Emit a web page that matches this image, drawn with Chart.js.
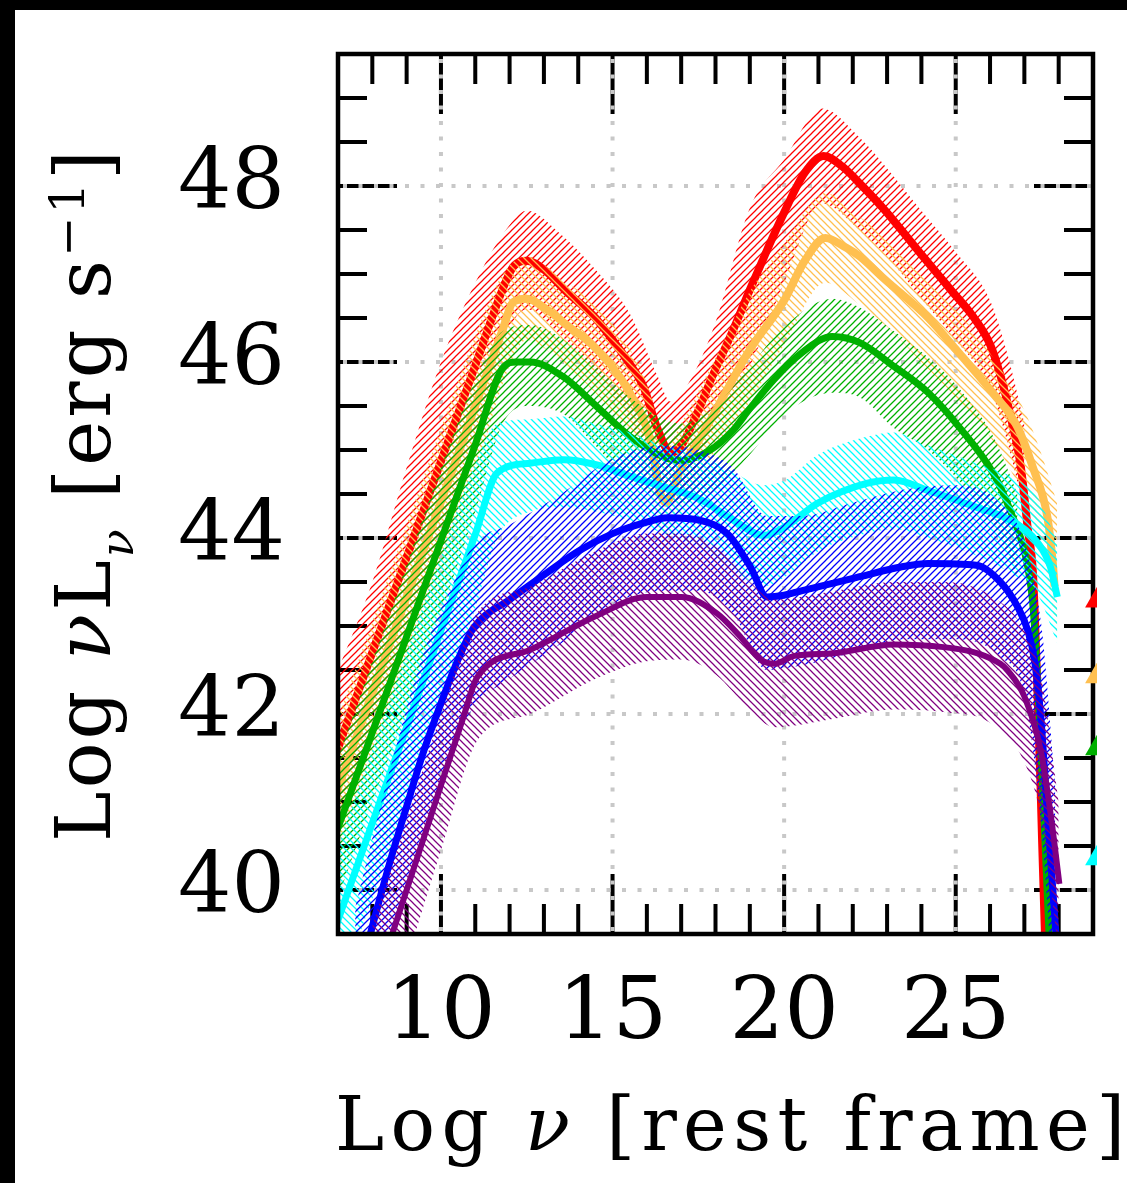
<!DOCTYPE html>
<html>
<head>
<meta charset="utf-8">
<script src="https://cdn.jsdelivr.net/npm/chart.js@4.4.0/dist/chart.umd.min.js"></script>
<style>
  html, body { margin: 0; padding: 0; background: #fff; }
  canvas { display: block; }
</style>
</head>
<body>
<canvas id="sed" width="1138" height="1183"></canvas>
<script>
// axis ticks
const xTicks = [10, 15, 20, 25];
const yTicks = [40, 42, 44, 46, 48];

// mean SEDs : log nu (rest frame) vs log nuLnu
const nuRed  = [6.9, 8, 9, 10, 11, 11.8, 12.1, 12.5, 13, 13.6, 14.5, 15, 15.5, 15.9, 16.3, 16.7, 17.0, 17.5, 17.9, 18.5, 19, 19.5, 20, 20.6, 21.15, 21.7, 22.2, 22.9, 24, 24.9, 25.5, 26, 26.3, 26.6, 26.9, 27.1, 27.25, 27.37, 27.47, 27.6, 27.7];
const lumRed = [41.5, 42.7, 43.78, 44.87, 45.96, 46.83, 47.08, 47.15, 47.05, 46.82, 46.5, 46.25, 45.98, 45.72, 45.25, 44.97, 45.05, 45.45, 45.83, 46.35, 46.82, 47.27, 47.7, 48.15, 48.34, 48.22, 48.03, 47.74, 47.22, 46.8, 46.52, 46.2, 45.85, 45.38, 44.8, 44.1, 43.6, 42.4, 41.2, 39.5, 38.8];

const nuOrg  = [6.9, 8, 9, 10, 11, 11.8, 12.1, 12.5, 13, 13.6, 14.5, 15.5, 16.1, 16.4, 16.55, 17.0, 17.5, 17.85, 18.5, 19, 20, 20.6, 21.2, 21.8, 22.2, 22.9, 24.2, 25.1, 26.1, 26.8, 27.25, 27.67, 27.82, 27.88];
const lumOrg = [41.05, 42.24, 43.33, 44.41, 45.5, 46.37, 46.68, 46.72, 46.62, 46.44, 46.16, 45.65, 45.11, 44.5, 44.4, 44.8, 45.1, 45.34, 45.8, 46.14, 46.7, 47.15, 47.41, 47.3, 47.2, 46.95, 46.5, 46.1, 45.64, 45.26, 44.8, 44.24, 43.75, 43.45];

const nuGrn  = [6.9, 8, 9, 10, 11, 11.8, 12.2, 12.6, 13.57, 14.55, 15.52, 16.49, 17.0, 17.85, 18.5, 19.0, 19.7, 20.5, 21.4, 22.2, 23.2, 24.2, 25.1, 26.1, 26.6, 27.08, 27.27, 27.53, 27.72, 27.8];
const lumGrn = [40.6, 41.79, 42.88, 43.97, 45.06, 45.93, 46.0, 46.0, 45.83, 45.49, 45.15, 44.92, 44.88, 45.0, 45.22, 45.47, 45.8, 46.1, 46.29, 46.22, 45.95, 45.65, 45.26, 44.73, 44.3, 43.71, 43.14, 41.2, 39.5, 39.0];

const nuCyn  = [6.9, 8, 9, 10, 11, 11.64, 12.6, 13.57, 14.55, 15.52, 16.5, 17.5, 18.53, 19.4, 20.0, 21.0, 22.4, 23.2, 24.2, 25.6, 26.6, 27.4, 27.76, 27.96];
const lumCyn = [39.55, 40.76, 41.85, 42.95, 44.04, 44.74, 44.85, 44.89, 44.83, 44.7, 44.58, 44.45, 44.2, 44.03, 44.12, 44.4, 44.62, 44.66, 44.54, 44.35, 44.2, 43.94, 43.67, 43.33];

const nuBlu  = [7.7, 7.94, 8.5, 9.0, 9.5, 10.0, 10.5, 10.95, 12.0, 13.0, 14.0, 15.0, 16.0, 16.6, 17.56, 18.34, 19.02, 19.5, 20.0, 20.5, 22.2, 23.4, 24.2, 25.6, 26.3, 26.8, 27.1, 27.3, 27.48, 27.68, 27.92, 28.0];
const lumBlu = [39.15, 39.5, 40.3, 40.95, 41.58, 42.12, 42.62, 42.98, 43.3, 43.58, 43.85, 44.05, 44.18, 44.23, 44.2, 44.05, 43.67, 43.33, 43.35, 43.4, 43.56, 43.67, 43.71, 43.69, 43.5, 43.22, 42.95, 42.6, 41.96, 40.82, 39.5, 39.0];

const nuPur  = [8.3, 8.58, 9.69, 10.65, 11.06, 12.6, 14.55, 16.0, 17.0, 18.05, 18.72, 19.31, 19.7, 20.3, 21.45, 23.2, 24.65, 25.64, 26.3, 26.5, 27.0, 27.48, 27.78, 28.02];
const lumPur = [39.17, 39.5, 40.82, 41.96, 42.42, 42.73, 43.12, 43.33, 43.33, 43.14, 42.88, 42.62, 42.57, 42.66, 42.69, 42.79, 42.76, 42.69, 42.57, 42.5, 42.2, 41.58, 40.82, 40.07];

// dispersion bands (upper / lower envelope)
const bnuRed = [6.9, 8, 9, 10, 11, 11.8, 12.5, 13.5, 14.5, 15.5, 16.3, 16.7, 17.2, 18, 19, 20, 21.1, 22.2, 23, 24, 25, 26, 26.5, 27.0];
const hiRed  = [42.4, 43.5, 44.8, 46.0, 46.9, 47.45, 47.72, 47.45, 47.05, 46.55, 45.85, 45.55, 45.75, 46.45, 47.75, 48.3, 48.88, 48.55, 48.2, 47.72, 47.25, 46.7, 46.1, 45.3];
const loRed  = [40.6, 41.8, 42.8, 43.8, 45.0, 46.2, 46.6, 46.3, 45.9, 45.35, 44.65, 44.4, 44.6, 45.3, 45.95, 46.9, 47.8, 47.5, 47.2, 46.72, 46.25, 45.7, 45.1, 44.3];

const bnuOrg = [6.9, 8, 9, 10, 11, 11.8, 12.5, 13.5, 14.5, 15.5, 16.1, 16.5, 17.0, 18, 19, 20, 21.2, 22.2, 23, 24, 25, 26, 27, 27.5, 27.95];
const hiOrg  = [41.85, 43.05, 44.15, 45.25, 46.3, 47.0, 47.2, 46.95, 46.65, 46.15, 45.65, 45.0, 45.3, 46.05, 46.8, 47.35, 47.92, 47.65, 47.4, 47.0, 46.6, 46.1, 45.45, 44.95, 44.4];
const loOrg  = [40.25, 41.45, 42.5, 43.6, 44.7, 45.75, 46.25, 46.0, 45.65, 45.15, 44.55, 43.85, 44.3, 45.0, 45.55, 46.2, 46.9, 46.65, 46.4, 46.0, 45.6, 45.15, 44.45, 43.9, 42.9];

const bnuGrn = [6.9, 8, 9, 10, 11, 11.8, 12.6, 13.6, 14.5, 15.5, 16.5, 17.0, 18, 19, 20, 21.4, 22.2, 23.2, 24.2, 25.1, 26.1, 26.8];
const hiGrn  = [41.4, 42.6, 43.7, 44.8, 45.8, 46.35, 46.42, 46.25, 45.95, 45.6, 45.35, 45.3, 45.5, 45.95, 46.4, 46.72, 46.62, 46.35, 46.05, 45.7, 45.15, 44.5];
const loGrn  = [39.8, 41.0, 42.05, 43.15, 44.3, 45.3, 45.5, 45.4, 45.05, 44.65, 44.45, 44.4, 44.55, 44.95, 45.4, 45.65, 45.6, 45.25, 45.0, 44.65, 44.15, 43.55];

const bnuCyn = [6.9, 8, 9, 10, 11, 11.64, 12.6, 13.6, 14.5, 15.5, 16.5, 17.5, 18.5, 19.4, 20, 21, 22.4, 23.2, 24.2, 25.6, 26.6, 27.4, 27.96];
const hiCyn  = [40.4, 41.6, 42.7, 43.8, 44.85, 45.3, 45.35, 45.38, 45.3, 45.2, 45.05, 44.95, 44.75, 44.6, 44.65, 44.95, 45.15, 45.2, 45.05, 44.85, 44.7, 44.45, 43.95];
const loCyn  = [38.7, 39.9, 41.0, 42.1, 43.2, 44.0, 44.3, 44.35, 44.3, 44.2, 44.05, 43.9, 43.65, 43.45, 43.55, 43.85, 44.05, 44.1, 44.0, 43.8, 43.6, 43.35, 42.8];

const bnuBlu = [7.5, 8.5, 9.5, 10.5, 11.0, 12.0, 13.5, 15.0, 16.5, 17.5, 18.5, 19.5, 20.5, 22, 23.5, 25, 26.3, 27.0, 27.5, 27.9];
const hiBlu  = [39.8, 41.35, 42.7, 43.6, 43.95, 44.15, 44.5, 44.9, 45.05, 45.0, 44.8, 44.25, 44.25, 44.4, 44.55, 44.6, 44.4, 43.95, 43.0, 41.2];
const loBlu  = [37.6, 39.4, 40.7, 41.75, 42.1, 42.4, 42.8, 43.25, 43.4, 43.4, 43.15, 42.5, 42.55, 42.7, 42.85, 42.85, 42.65, 42.2, 40.7, 38.5];

const bnuPur = [8.0, 9.0, 10.0, 11.06, 12.6, 14.5, 16.0, 17.0, 18.0, 19.0, 19.7, 21.5, 23.2, 24.7, 26.0, 27.0, 27.5, 28.0];
const hiPur  = [39.6, 40.8, 42.0, 43.15, 43.45, 43.85, 44.05, 44.05, 43.9, 43.5, 43.3, 43.4, 43.5, 43.5, 43.35, 42.95, 42.4, 41.0];
const loPur  = [38.0, 39.2, 40.45, 41.7, 42.0, 42.4, 42.6, 42.62, 42.45, 42.05, 41.85, 41.95, 42.05, 42.02, 41.9, 41.45, 40.8, 39.3];

// markers sitting on the right edge
const triNu  = [29.3, 29.3, 29.3, 29.3];
const triLum = [43.33, 42.47, 41.65, 40.4];
const triCol = ['#ff0000', '#ffc050', '#00b000', '#00ffff'];

const canvas = document.getElementById('sed');
const ctx0 = canvas.getContext('2d');

function hatch(color, dir) {
  let s = 7;
  let c = document.createElement('canvas');
  c.width = s; c.height = s;
  let g = c.getContext('2d');
  g.strokeStyle = color;
  g.lineWidth = 1.25;
  g.beginPath();
  if (dir === '/') {
    g.moveTo(0, s); g.lineTo(s, 0);
    g.moveTo(-1, 1); g.lineTo(1, -1);
    g.moveTo(s - 1, s + 1); g.lineTo(s + 1, s - 1);
  } else {
    g.moveTo(0, 0); g.lineTo(s, s);
    g.moveTo(-1, s - 1); g.lineTo(1, s + 1);
    g.moveTo(s - 1, -1); g.lineTo(s + 1, 1);
  }
  g.stroke();
  return ctx0.createPattern(c, 'repeat');
}

const series = [
  {c: '#ff0000', dir: '/',  w: 8, nu: nuRed, lum: lumRed, bnu: bnuRed, hi: hiRed, lo: loRed},
  {c: '#ffc050', dir: '\\', w: 8, nu: nuOrg, lum: lumOrg, bnu: bnuOrg, hi: hiOrg, lo: loOrg},
  {c: '#00b000', dir: '/',  w: 7, nu: nuGrn, lum: lumGrn, bnu: bnuGrn, hi: hiGrn, lo: loGrn},
  {c: '#00ffff', dir: '\\', w: 7, nu: nuCyn, lum: lumCyn, bnu: bnuCyn, hi: hiCyn, lo: loCyn},
  {c: '#0000ff', dir: '/',  w: 7, nu: nuBlu, lum: lumBlu, bnu: bnuBlu, hi: hiBlu, lo: loBlu},
  {c: '#800080', dir: '\\', w: 6, nu: nuPur, lum: lumPur, bnu: bnuPur, hi: hiPur, lo: loPur}
];

const pts = (xs, ys) => xs.map((v, i) => ({x: v, y: ys[i]}));

let datasets = [];
series.forEach((s, k) => {
  let i = datasets.length;
  datasets.push({
    data: pts(s.bnu, s.hi), borderWidth: 0, borderColor: 'rgba(0,0,0,0)', pointRadius: 0,
    fill: i + 1, backgroundColor: hatch(s.c, s.dir), cubicInterpolationMode: 'monotone',
    order: 100 - 3 * k, clip: 0
  });
  datasets.push({
    data: pts(s.bnu, s.lo), borderWidth: 0, borderColor: 'rgba(0,0,0,0)', pointRadius: 0,
    fill: false, cubicInterpolationMode: 'monotone', order: 100 - 3 * k, clip: 0
  });
  datasets.push({
    data: pts(s.nu, s.lum), borderColor: s.c, borderWidth: s.w, pointRadius: 0,
    fill: false, cubicInterpolationMode: 'monotone', order: 99 - 3 * k, clip: 0
  });
});
const frameAfter = datasets.length - 1;
datasets.push({
  data: pts(triNu, triLum), showLine: false, pointStyle: 'triangle', pointRadius: 21,
  pointBackgroundColor: triCol, pointBorderColor: triCol, pointBorderWidth: 0,
  order: 0, clip: {left: 0, top: 0, right: 4, bottom: 0}
});

function drawSpaced(ctx, segs, width) {
  ctx.letterSpacing = '0px';
  let nat = 0, n = 0;
  for (const s of segs) { ctx.font = s.font; nat += ctx.measureText(s.text).width; n += [...s.text].length; }
  const ls = (width - nat) / (n - 1);
  ctx.letterSpacing = ls + 'px';
  let x = 0;
  for (const s of segs) {
    ctx.font = s.font;
    ctx.fillText(s.text, x, s.dy || 0);
    x += ctx.measureText(s.text).width;
  }
  ctx.letterSpacing = '0px';
}

const F = "'DejaVu Serif', serif";

const deco = {
  id: 'deco',
  beforeDraw(chart) {
    const ctx = chart.ctx;
    ctx.save();
    ctx.fillStyle = '#ffffff';
    ctx.fillRect(0, 0, chart.width, chart.height);
    ctx.fillStyle = '#000000';
    ctx.fillRect(0, 0, 1127, 10);
    ctx.fillRect(0, 0, 15, chart.height);
    ctx.restore();
  },
  beforeDatasetsDraw(chart) {
    const {ctx, chartArea: a, scales: {x, y}} = chart;
    ctx.save();
    ctx.strokeStyle = '#000';
    ctx.lineWidth = 4;
    ctx.beginPath();
    for (let v = 8; v <= 28; v++) {
      const p = x.getPixelForValue(v);
      const len = xTicks.includes(v) ? 60 : 30;
      ctx.moveTo(p, a.top); ctx.lineTo(p, a.top + len);
      ctx.moveTo(p, a.bottom); ctx.lineTo(p, a.bottom - len);
    }
    for (let v = 40; v <= 49; v += 0.5) {
      const p = y.getPixelForValue(v);
      const len = yTicks.includes(v) ? 59 : 29;
      ctx.moveTo(a.left, p); ctx.lineTo(a.left + len, p);
      ctx.moveTo(a.right, p); ctx.lineTo(a.right - len, p);
    }
    ctx.stroke();
    // dotted grid
    ctx.strokeStyle = '#c8c8c8';
    ctx.setLineDash([4, 11.5]);
    ctx.lineDashOffset = -5;
    ctx.beginPath();
    xTicks.forEach(v => { const p = x.getPixelForValue(v); ctx.moveTo(p, a.top); ctx.lineTo(p, a.bottom); });
    yTicks.forEach(v => { const p = y.getPixelForValue(v); ctx.moveTo(a.left, p); ctx.lineTo(a.right, p); });
    ctx.stroke();
    ctx.restore();
  },
  afterDatasetDraw(chart, args) {
    if (args.index !== frameAfter) return;
    const {ctx, chartArea: a} = chart;
    ctx.save();
    ctx.strokeStyle = '#000';
    ctx.lineWidth = 4.5;
    ctx.strokeRect(a.left, a.top, a.right - a.left, a.bottom - a.top);
    ctx.restore();
  },
  afterDraw(chart) {
    const ctx = chart.ctx;
    ctx.save();
    ctx.fillStyle = '#000';
    ctx.textBaseline = 'alphabetic';
    ctx.textAlign = 'left';
    // x title
    ctx.save();
    ctx.translate(335, 1150);
    drawSpaced(ctx, [
      {text: 'Log ', font: '74px ' + F},
      {text: 'ν', font: 'italic 74px ' + F},
      {text: ' [rest frame]', font: '74px ' + F}
    ], 790);
    ctx.restore();
    // y title
    ctx.save();
    ctx.translate(110, 842);
    ctx.rotate(-Math.PI / 2);
    drawSpaced(ctx, [
      {text: 'Log ', font: '76px ' + F},
      {text: 'ν', font: 'italic 76px ' + F},
      {text: 'L', font: '76px ' + F},
      {text: 'ν', font: 'italic 46px ' + F, dy: 23},
      {text: ' [erg s', font: '76px ' + F},
      {text: '−1', font: '48px ' + F, dy: -26},
      {text: ']', font: '76px ' + F}
    ], 692);
    ctx.restore();
    ctx.restore();
  }
};

new Chart(canvas, {
  type: 'line',
  data: { datasets: datasets },
  options: {
    responsive: false,
    devicePixelRatio: 1,
    animation: false,
    events: [],
    layout: { padding: { left: 0, top: 54, right: 45, bottom: 0 } },
    plugins: { legend: { display: false }, tooltip: { enabled: false } },
    scales: {
      x: {
        type: 'linear', bounds: 'data',
        grid: { display: false, drawTicks: false },
        border: { display: false },
        // range set here (not via min/max) so the edge markers beyond 29 are still drawn
        afterDataLimits: s => { s.min = 7; s.max = 29; },
        afterBuildTicks: s => { s.min = 7; s.max = 29; s.ticks = xTicks.map(v => ({value: v})); },
        afterFit: s => { s.height = 249; s.paddingLeft = 0; s.paddingRight = 0; },
        ticks: { color: '#000', font: { family: F, size: 86 }, padding: 30, autoSkip: false, maxRotation: 0, minRotation: 0 }
      },
      y: {
        type: 'linear', min: 39.5, max: 49.5,
        grid: { display: false, drawTicks: false },
        border: { display: false },
        afterBuildTicks: s => { s.ticks = yTicks.map(v => ({value: v})); },
        afterFit: s => { s.width = 338; s.paddingTop = 0; s.paddingBottom = 0; },
        ticks: { color: '#000', font: { family: F, size: 84 }, padding: 53 }
      }
    }
  },
  plugins: [deco]
});
</script>
</body>
</html>
